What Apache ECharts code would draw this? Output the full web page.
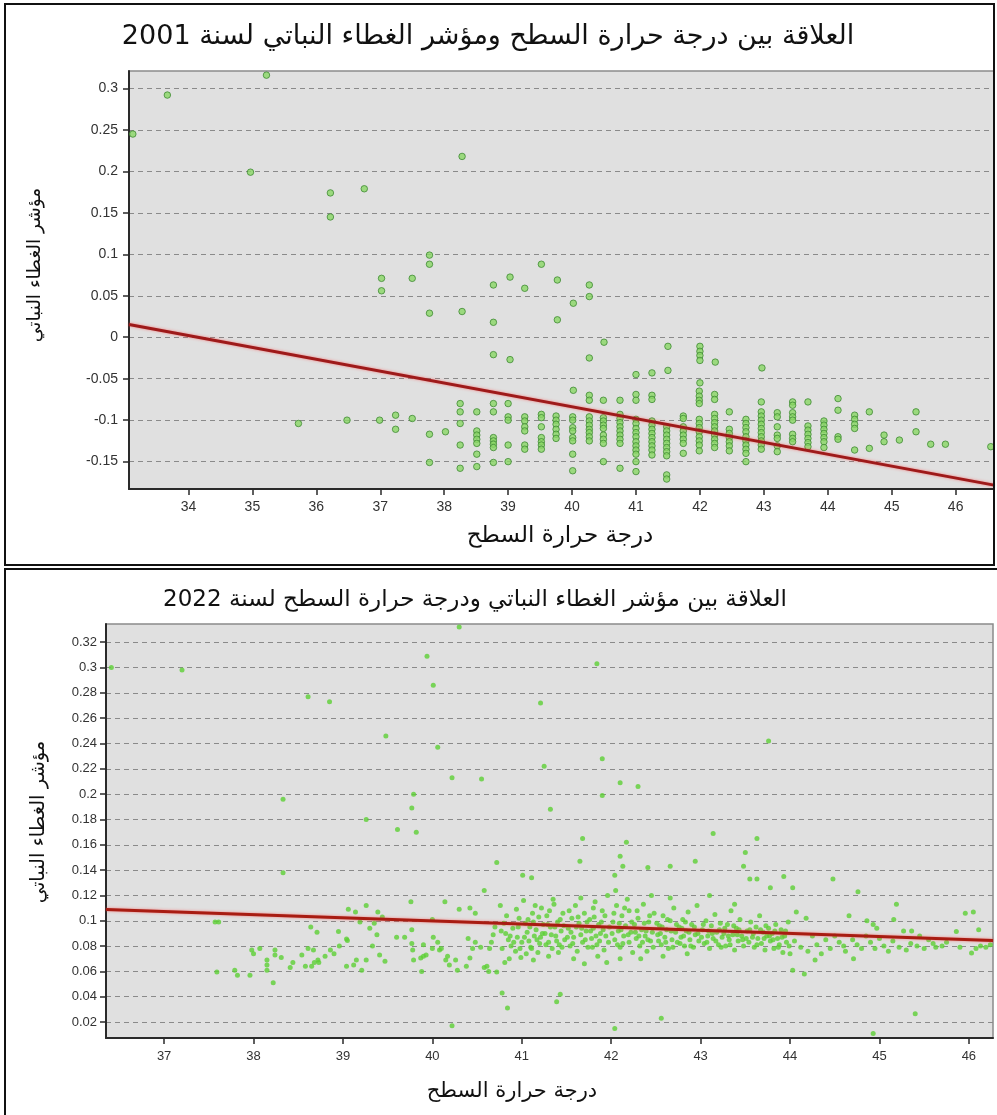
<!DOCTYPE html>
<html><head><meta charset="utf-8">
<script src="https://cdn.jsdelivr.net/npm/echarts@6/dist/echarts.min.js"></script>
<style>html,body{margin:0;padding:0;background:#fff;}#c{width:997px;height:1115px;}</style>
</head><body><div id="c"></div>
<script>
// ---------- texts ----------
const title2001 = 'العلاقة بين درجة حرارة السطح ومؤشر الغطاء النباتي لسنة 2001';
const title2022 = 'العلاقة بين مؤشر الغطاء النباتي ودرجة حرارة السطح لسنة 2022';
const xAxisName = 'درجة حرارة السطح';
const yAxisName = 'مؤشر الغطاء النباتي';

// ---------- axes ----------
const xRange2001 = [33.07, 46.6];
const yRange2001 = [-0.183, 0.321];
const xTicks2001 = [34, 35, 36, 37, 38, 39, 40, 41, 42, 43, 44, 45, 46];
const yTicks2001 = [-0.15, -0.1, -0.05, 0, 0.05, 0.1, 0.15, 0.2, 0.25, 0.3];
const xRange2022 = [36.35, 46.27];
const yRange2022 = [0.0074, 0.3344];
const xTicks2022 = [37, 38, 39, 40, 41, 42, 43, 44, 45, 46];
const yTicks2022 = [0.02, 0.04, 0.06, 0.08, 0.1, 0.12, 0.14, 0.16, 0.18, 0.2, 0.22, 0.24, 0.26, 0.28, 0.3, 0.32];

// ---------- regression lines ----------
const trend2001 = { intercept: 0.489, slope: -0.01432 };
const trend2022 = { intercept: 0.1986, slope: -0.00247 };

// ---------- 2001 points [LST, NDVI] ----------
const points2001 = [
[33.13,0.245],[33.67,0.292],[35.22,0.316],[34.97,0.199],[36.22,0.174],[36.22,0.145],[36.75,0.179],[38.28,0.218],
[37.02,0.071],[37.02,0.056],[37.5,0.071],[37.77,0.099],[37.77,0.088],[37.77,0.029],[38.28,0.031],[38.77,0.063],
[39.03,0.0725],[39.26,0.059],[39.52,0.088],[39.77,0.069],[40.02,0.041],[40.27,0.063],[40.27,0.049],[39.77,0.021],
[38.77,0.018],[38.77,-0.021],[39.03,-0.027],[40.5,-0.006],[40.27,-0.025],[41.5,-0.011],[42.0,-0.011],[42.0,-0.017],
[42.0,-0.022],[42.0,-0.028],[42.24,-0.030],[42.97,-0.037],[41.0,-0.045],[41.25,-0.043],[41.5,-0.040],[42.0,-0.055],[40.02,-0.064],
[35.72,-0.104],[36.48,-0.100],[36.99,-0.100],[37.24,-0.094],[37.24,-0.111],[37.5,-0.098],[37.77,-0.117],[37.77,-0.151],[38.02,-0.114],
[38.25,-0.080],[38.25,-0.090],[38.25,-0.104],[38.25,-0.130],[38.25,-0.158],
[38.51,-0.090],[38.51,-0.113],[38.51,-0.118],[38.51,-0.123],[38.51,-0.128],[38.51,-0.141],[38.51,-0.156],
[38.77,-0.080],[38.77,-0.090],[38.77,-0.121],[38.77,-0.125],[38.77,-0.129],[38.77,-0.133],[38.77,-0.151],
[39.0,-0.080],[39.0,-0.096],[39.0,-0.100],[39.0,-0.130],[39.0,-0.150],
[39.26,-0.096],[39.26,-0.101],[39.26,-0.108],[39.26,-0.113],[39.26,-0.130],[39.26,-0.135],
[39.52,-0.093],[39.52,-0.097],[39.52,-0.108],[39.52,-0.121],[39.52,-0.126],[39.52,-0.130],[39.52,-0.135],
[39.75,-0.095],[39.75,-0.100],[39.75,-0.105],[39.75,-0.111],[39.75,-0.117],[39.75,-0.122],
[40.01,-0.096],[40.01,-0.100],[40.01,-0.109],[40.01,-0.113],[40.01,-0.121],[40.01,-0.125],[40.01,-0.141],[40.01,-0.161],
[40.27,-0.070],[40.27,-0.076],[40.27,-0.096],[40.27,-0.101],[40.27,-0.106],[40.27,-0.111],[40.27,-0.115],[40.27,-0.120],[40.27,-0.125],
[40.49,-0.076],[40.49,-0.097],[40.49,-0.101],[40.49,-0.106],[40.49,-0.110],[40.49,-0.118],[40.49,-0.123],[40.49,-0.128],[40.49,-0.150],
[40.75,-0.076],[40.75,-0.093],[40.75,-0.098],[40.75,-0.103],[40.75,-0.108],[40.75,-0.113],[40.75,-0.118],[40.75,-0.123],[40.75,-0.128],[40.75,-0.158],
[41.0,-0.069],[41.0,-0.076],[41.0,-0.099],[41.0,-0.104],[41.0,-0.110],[41.0,-0.115],[41.0,-0.120],[41.0,-0.126],[41.0,-0.131],[41.0,-0.136],[41.0,-0.141],[41.0,-0.150],[41.0,-0.162],
[41.25,-0.070],[41.25,-0.075],[41.25,-0.101],[41.25,-0.106],[41.25,-0.111],[41.25,-0.116],[41.25,-0.121],[41.25,-0.126],[41.25,-0.131],[41.25,-0.136],[41.25,-0.142],
[41.48,-0.108],[41.48,-0.113],[41.48,-0.118],[41.48,-0.123],[41.48,-0.128],[41.48,-0.133],[41.48,-0.138],[41.48,-0.143],[41.48,-0.166],[41.48,-0.171],
[41.74,-0.095],[41.74,-0.098],[41.74,-0.108],[41.74,-0.113],[41.74,-0.118],[41.74,-0.123],[41.74,-0.128],[41.74,-0.140],
[41.99,-0.065],[41.99,-0.071],[41.99,-0.076],[41.99,-0.080],[41.99,-0.099],[41.99,-0.104],[41.99,-0.109],[41.99,-0.114],[41.99,-0.120],[41.99,-0.125],[41.99,-0.130],[41.99,-0.137],
[42.23,-0.069],[42.23,-0.075],[42.23,-0.093],[42.23,-0.098],[42.23,-0.103],[42.23,-0.108],[42.23,-0.113],[42.23,-0.118],[42.23,-0.123],[42.23,-0.128],[42.23,-0.133],
[42.46,-0.090],[42.46,-0.111],[42.46,-0.116],[42.46,-0.121],[42.46,-0.126],[42.46,-0.131],[42.46,-0.137],
[42.72,-0.099],[42.72,-0.104],[42.72,-0.109],[42.72,-0.114],[42.72,-0.120],[42.72,-0.125],[42.72,-0.130],[42.72,-0.135],[42.72,-0.140],[42.72,-0.150],
[42.96,-0.078],[42.96,-0.090],[42.96,-0.095],[42.96,-0.100],[42.96,-0.105],[42.96,-0.110],[42.96,-0.115],[42.96,-0.120],[42.96,-0.125],[42.96,-0.130],[42.96,-0.135],
[43.21,-0.091],[43.21,-0.096],[43.21,-0.108],[43.21,-0.118],[43.21,-0.122],[43.21,-0.131],[43.21,-0.138],
[43.45,-0.078],[43.45,-0.082],[43.45,-0.091],[43.45,-0.096],[43.45,-0.100],[43.45,-0.117],[43.45,-0.122],[43.45,-0.126],
[43.69,-0.078],[43.69,-0.107],[43.69,-0.112],[43.69,-0.117],[43.69,-0.122],[43.69,-0.127],[43.69,-0.132],
[43.94,-0.101],[43.94,-0.106],[43.94,-0.111],[43.94,-0.116],[43.94,-0.121],[43.94,-0.126],[43.94,-0.133],
[44.16,-0.074],[44.16,-0.088],[44.16,-0.120],[44.16,-0.123],
[44.42,-0.094],[44.42,-0.099],[44.42,-0.105],[44.42,-0.110],[44.42,-0.136],
[44.65,-0.090],[44.65,-0.134],[44.88,-0.118],[44.88,-0.126],[45.12,-0.124],[45.38,-0.090],[45.38,-0.114],
[45.61,-0.129],[45.84,-0.129],[46.55,-0.132]
];

// ---------- 2022 points [LST, NDVI] ----------
const points2022 = [
[36.41,0.300],[37.2,0.298],[38.61,0.277],[38.85,0.273],[39.48,0.246],[39.94,0.309],[40.01,0.286],[40.06,0.237],[40.3,0.332],
[40.22,0.213],[40.55,0.212],[38.33,0.196],[39.79,0.200],[39.77,0.189],[39.26,0.180],[39.61,0.172],[39.82,0.170],[38.33,0.138],[40.72,0.146],
[41.84,0.303],[41.21,0.272],[43.76,0.242],[41.9,0.228],[41.25,0.222],[42.1,0.209],[42.3,0.206],[41.9,0.199],[41.32,0.188],[43.14,0.169],
[43.63,0.165],[41.68,0.165],[42.17,0.162],[43.5,0.154],[41.65,0.147],[42.1,0.151],[42.13,0.143],[42.41,0.142],[42.66,0.143],[42.94,0.147],
[43.48,0.143],[41.01,0.136],[41.11,0.134],[42.04,0.136],[43.55,0.133],[43.63,0.133],[43.93,0.135],[44.48,0.133],
[40.22,0.017],[45.4,0.0265],[44.93,0.011],[42.56,0.023],[42.04,0.015],[40.78,0.043],[40.84,0.031],[41.39,0.036],[41.43,0.042],
[37.57,0.099],[37.61,0.099],[37.59,0.0595],[37.79,0.061],[37.82,0.057],[37.96,0.057],[37.98,0.077],[38.0,0.074],[38.07,0.078],
[38.15,0.069],[38.15,0.065],[38.15,0.061],[38.22,0.051],[38.24,0.077],[38.24,0.073],[38.31,0.071],[38.41,0.063],[38.44,0.067],
[38.54,0.073],[38.58,0.064],[38.61,0.078],[38.64,0.095],[38.65,0.064],[38.67,0.077],[38.68,0.067],[38.71,0.091],[38.72,0.069],
[38.73,0.067],[38.8,0.072],[38.86,0.077],[38.9,0.074],[38.95,0.0915],[38.96,0.080],[39.04,0.064],[39.04,0.0855],[39.05,0.0844],
[39.06,0.109],[39.12,0.065],[39.14,0.107],[39.15,0.069],[39.19,0.099],[39.21,0.061],[39.26,0.069],[39.26,0.112],[39.3,0.094],
[39.33,0.080],[39.35,0.098],[39.38,0.089],[39.39,0.107],[39.41,0.073],[39.44,0.103],[39.47,0.068],[39.6,0.087],[39.69,0.087],
[39.76,0.115],[39.77,0.093],[39.77,0.082],[39.78,0.077],[39.79,0.069],[39.88,0.060],[39.87,0.0705],[39.9,0.072],[39.93,0.073],
[40.0,0.078],[39.9,0.081],[40.0,0.101],[40.01,0.087],[40.06,0.083],[40.08,0.077],[40.1,0.078],[40.14,0.115],[40.15,0.069],
[40.17,0.072],[40.19,0.065],[40.26,0.069],[40.28,0.061],[40.3,0.109],[40.38,0.064],[40.4,0.086],[40.42,0.110],[40.42,0.0705],
[40.45,0.078],[40.48,0.106],[40.48,0.083],[40.54,0.079],[40.58,0.124],[40.58,0.063],[40.63,0.060],[40.64,0.078],[40.66,0.083],
[40.68,0.089],[40.7,0.095],[40.61,0.064],[40.72,0.0595],
[44.66,0.104],[44.76,0.123],[44.86,0.100],[44.93,0.097],[44.97,0.094],[45.16,0.101],[45.19,0.113],[45.27,0.092],[45.36,0.092],
[45.45,0.088],[45.6,0.082],[45.63,0.079],[45.86,0.0915],[45.96,0.106],[46.05,0.107],[46.11,0.093],[46.03,0.0745],[46.08,0.078],
[46.13,0.080],[46.19,0.079],[46.24,0.081],[44.71,0.070],[44.28,0.069],[44.03,0.061],[44.16,0.058],[44.07,0.107],[44.18,0.102],
[44.03,0.126],[43.78,0.126],
[44.5,0.088],[44.55,0.083],[44.6,0.080],[44.62,0.076],[44.7,0.085],[44.75,0.081],[44.8,0.078],[44.85,0.088],[44.9,0.083],
[44.95,0.078],[45.0,0.086],[45.05,0.080],[45.1,0.076],[45.15,0.084],[45.22,0.079],[45.3,0.077],[45.35,0.082],[45.42,0.080],
[45.5,0.078],[45.55,0.085],[45.7,0.080],[45.75,0.083],[45.9,0.079],[44.45,0.078],[44.4,0.085],[44.35,0.074],[44.3,0.081],
[44.25,0.088],[44.2,0.076],[44.12,0.079],[44.05,0.084],[44.0,0.074],
[40.76,0.112],[40.8,0.098],[40.82,0.090],[40.85,0.085],[40.88,0.080],[40.9,0.094],[40.93,0.076],[40.95,0.087],[40.97,0.102],
[40.99,0.071],[41.0,0.083],[40.78,0.078],[40.86,0.070],
[41.02,0.116],[41.04,0.098],[41.06,0.091],[41.08,0.084],[41.1,0.079],[41.12,0.106],[41.14,0.088],[41.16,0.093],[41.18,0.075],
[41.2,0.082],[41.22,0.110],[41.24,0.097],[41.05,0.074],[41.15,0.112],[41.21,0.087],
[41.26,0.090],[41.28,0.104],[41.3,0.083],[41.32,0.095],[41.34,0.078],[41.36,0.113],[41.38,0.088],[41.4,0.099],[41.42,0.081],
[41.44,0.092],[41.46,0.106],[41.48,0.085],[41.3,0.072],[41.41,0.075],[41.35,0.117],
[41.52,0.094],[41.54,0.080],[41.56,0.102],[41.58,0.087],[41.6,0.112],[41.62,0.076],[41.64,0.098],[41.66,0.089],[41.68,0.083],
[41.7,0.106],[41.72,0.092],[41.74,0.079],[41.58,0.070],[41.66,0.118],[41.7,0.066],
[41.76,0.101],[41.78,0.086],[41.8,0.094],[41.82,0.115],[41.84,0.081],[41.86,0.097],[41.88,0.090],[41.9,0.108],[41.92,0.077],
[41.94,0.088],[41.96,0.120],[41.98,0.095],[41.85,0.072],[41.95,0.067],[41.8,0.110],
[42.02,0.099],[42.04,0.085],[42.06,0.112],[42.08,0.092],[42.1,0.079],[42.12,0.104],[42.14,0.088],[42.16,0.096],[42.18,0.117],
[42.2,0.083],[42.22,0.091],[42.24,0.075],[42.1,0.070],[42.2,0.108],[42.05,0.124],
[42.26,0.097],[42.28,0.086],[42.3,0.102],[42.32,0.080],[42.34,0.093],[42.36,0.113],[42.38,0.088],[42.4,0.076],[42.42,0.099],
[42.44,0.084],[42.46,0.091],[42.48,0.106],[42.33,0.070],[42.45,0.120],
[42.52,0.089],[42.54,0.096],[42.56,0.081],[42.58,0.104],[42.6,0.087],[42.62,0.093],[42.64,0.078],[42.66,0.100],[42.68,0.085],
[42.7,0.110],[42.72,0.091],[42.74,0.083],[42.58,0.072],[42.66,0.118],
[42.76,0.095],[42.78,0.087],[42.8,0.101],[42.82,0.080],[42.84,0.092],[42.86,0.107],[42.88,0.085],[42.9,0.097],[42.92,0.079],
[42.94,0.089],[42.96,0.112],[42.98,0.084],[42.85,0.074],
[43.02,0.093],[43.04,0.082],[43.06,0.100],[43.08,0.088],[43.1,0.078],[43.12,0.096],[43.14,0.086],[43.16,0.105],[43.18,0.091],
[43.2,0.081],[43.22,0.098],[43.24,0.087],[43.1,0.120],
[43.26,0.090],[43.28,0.080],[43.3,0.097],[43.32,0.085],[43.34,0.108],[43.36,0.089],[43.38,0.077],[43.4,0.094],[43.42,0.084],
[43.44,0.101],[43.46,0.088],[43.48,0.080],[43.38,0.113],
[43.52,0.092],[43.54,0.083],[43.56,0.099],[43.58,0.087],[43.6,0.079],[43.62,0.095],[43.64,0.086],[43.66,0.104],[43.68,0.082],
[43.7,0.091],[43.72,0.077],[43.74,0.088],
[43.76,0.094],[43.78,0.084],[43.8,0.090],[43.82,0.078],[43.84,0.097],[43.86,0.086],[43.88,0.081],[43.9,0.093],[43.92,0.075],
[43.94,0.088],[43.96,0.083],[43.98,0.099],
[40.77,0.092],[40.83,0.104],[40.87,0.088],[40.91,0.083],[40.96,0.095],[40.98,0.078],[40.81,0.067],[40.94,0.109],
[41.03,0.087],[41.07,0.101],[41.09,0.095],[41.11,0.078],[41.13,0.099],[41.17,0.085],[41.19,0.103],[41.23,0.090],[41.13,0.069],
[41.27,0.081],[41.29,0.097],[41.31,0.108],[41.33,0.089],[41.37,0.095],[41.39,0.084],[41.43,0.101],[41.45,0.079],[41.47,0.096],
[41.51,0.087],[41.53,0.108],[41.55,0.091],[41.57,0.082],[41.61,0.095],[41.63,0.103],[41.67,0.094],[41.71,0.085],[41.73,0.099],
[41.77,0.092],[41.79,0.079],[41.81,0.103],[41.83,0.088],[41.87,0.084],[41.89,0.099],[41.91,0.093],[41.93,0.104],[41.97,0.083],
[42.01,0.090],[42.03,0.106],[42.07,0.081],[42.09,0.098],[42.11,0.093],[42.13,0.082],[42.15,0.110],[42.19,0.089],[42.23,0.099],
[42.27,0.091],[42.29,0.108],[42.31,0.088],[42.35,0.083],[42.37,0.098],[42.39,0.092],[42.41,0.085],[42.43,0.104],[42.47,0.079],
[42.51,0.098],[42.53,0.084],[42.55,0.090],[42.57,0.095],[42.61,0.083],[42.63,0.101],[42.67,0.092],[42.69,0.079],[42.73,0.097],
[42.77,0.082],[42.79,0.094],[42.81,0.088],[42.83,0.099],[42.87,0.091],[42.89,0.080],[42.93,0.095],[42.97,0.090],
[43.01,0.087],[43.03,0.097],[43.07,0.083],[43.09,0.092],[43.13,0.090],[43.17,0.084],[43.21,0.093],[43.23,0.079],
[43.27,0.094],[43.31,0.088],[43.33,0.081],[43.37,0.096],[43.41,0.089],[43.43,0.093],[43.47,0.085],
[43.51,0.086],[43.55,0.093],[43.59,0.090],[43.63,0.081],[43.67,0.093],[43.71,0.086],[43.73,0.096],
[43.77,0.088],[43.81,0.085],[43.83,0.092],[43.87,0.079],[43.91,0.087],[43.95,0.092],[43.99,0.080]
];

// ---------- build ----------
function trendData(t, r) { return r.map(x => [x, t.intercept + t.slope * x]); }
const fmt = v => String(+v.toFixed(3));
const ARABIC = "'DejaVu Sans', 'Noto Sans', sans-serif";
const NUM = "'Liberation Sans', Arial, sans-serif";

function xAx(idx, range, ticks, fs, margin) {
  return {
    type: 'value', gridIndex: idx, min: range[0], max: range[1],
    axisLine: { show: true, onZero: false, lineStyle: { color: '#2a2a2a', width: 2 } },
    axisTick: { show: true, length: 6, customValues: ticks, lineStyle: { color: '#2a2a2a', width: 1.5 } },
    axisLabel: { customValues: ticks, formatter: fmt, fontSize: fs, color: '#333', fontFamily: NUM, margin: margin },
    splitLine: { show: false }
  };
}
function yAx(idx, range, ticks, fs, margin) {
  return {
    type: 'value', gridIndex: idx, min: range[0], max: range[1],
    axisLine: { show: true, onZero: false, lineStyle: { color: '#2a2a2a', width: 2 } },
    axisTick: { show: true, length: 6, customValues: ticks, lineStyle: { color: '#2a2a2a', width: 1.5 } },
    axisLabel: { customValues: ticks, formatter: fmt, fontSize: fs, color: '#333', fontFamily: NUM, margin: margin },
    splitLine: { show: true, lineStyle: { color: '#8a8a8a', width: 1, type: [5, 4] } }
  };
}

const chart = echarts.init(document.getElementById('c'), null, { renderer: 'canvas' });
chart.setOption({
  backgroundColor: '#ffffff',
  animation: false,
  grid: [
    { left: 129, top: 71, width: 865, height: 418, show: true, backgroundColor: '#e0e0e0', borderColor: '#8a8a8a', borderWidth: 1.5 },
    { left: 106, top: 624, width: 887, height: 414, show: true, backgroundColor: '#e0e0e0', borderColor: '#8a8a8a', borderWidth: 1.5 }
  ],
  xAxis: [xAx(0, xRange2001, xTicks2001, 14, 11), xAx(1, xRange2022, xTicks2022, 13, 12)],
  yAxis: [yAx(0, yRange2001, yTicks2001, 14, 11), yAx(1, yRange2022, yTicks2022, 13, 9)],
  graphic: [
    { type: 'rect', shape: { x: 5, y: 4, width: 989, height: 561 }, style: { fill: 'none', stroke: '#111', lineWidth: 2 }, z: 10 },
    { type: 'rect', shape: { x: 5, y: 569, width: 1000, height: 600 }, style: { fill: 'none', stroke: '#111', lineWidth: 2 }, z: 10 },
    { type: 'text', x: 488, y: 37, style: { text: title2001, font: '27px ' + ARABIC, fill: '#111', align: 'center', verticalAlign: 'middle' } },
    { type: 'text', x: 475, y: 600, style: { text: title2022, font: '23px ' + ARABIC, fill: '#111', align: 'center', verticalAlign: 'middle' } },
    { type: 'text', x: 560, y: 536, style: { text: xAxisName, font: '23px ' + ARABIC, fill: '#111', align: 'center', verticalAlign: 'middle' } },
    { type: 'text', x: 512, y: 1092, style: { text: xAxisName, font: '21px ' + ARABIC, fill: '#111', align: 'center', verticalAlign: 'middle' } },
    { type: 'text', x: 35, y: 265, rotation: Math.PI / 2, style: { text: yAxisName, font: '18.5px ' + ARABIC, fill: '#111', align: 'center', verticalAlign: 'middle' } },
    { type: 'text', x: 39, y: 822, rotation: Math.PI / 2, style: { text: yAxisName, font: '19.5px ' + ARABIC, fill: '#111', align: 'center', verticalAlign: 'middle' } }
  ],
  series: [
    { type: 'scatter', xAxisIndex: 0, yAxisIndex: 0, data: points2001, symbol: 'circle', symbolSize: 6.5,
      itemStyle: { color: '#8ad765', borderColor: '#3f8a33', borderWidth: 1 } },
    { type: 'line', xAxisIndex: 0, yAxisIndex: 0, data: trendData(trend2001, xRange2001), symbol: 'none',
      lineStyle: { color: '#9e1a1a', width: 3, shadowColor: 'rgba(255,70,70,0.6)', shadowBlur: 3 }, z: 5 },
    { type: 'scatter', xAxisIndex: 1, yAxisIndex: 1, data: points2022, symbol: 'circle', symbolSize: 5,
      itemStyle: { color: '#5ccf34' } },
    { type: 'line', xAxisIndex: 1, yAxisIndex: 1, data: trendData(trend2022, xRange2022), symbol: 'none',
      lineStyle: { color: '#a81c12', width: 3, shadowColor: 'rgba(255,70,70,0.6)', shadowBlur: 3 }, z: 5 }
  ]
});
</script></body></html>
